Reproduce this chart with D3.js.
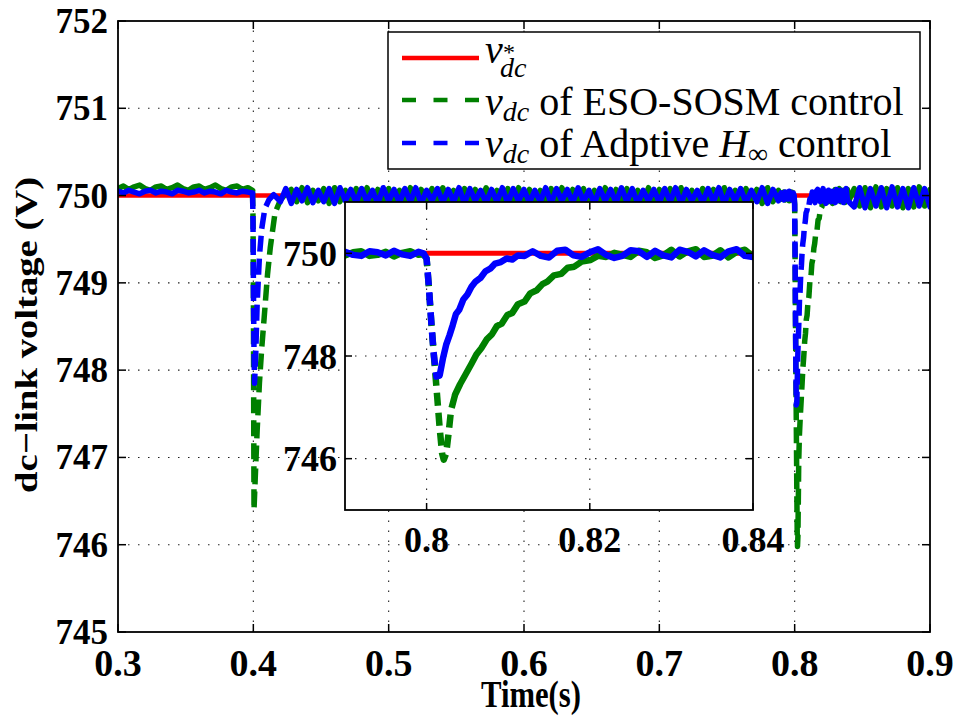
<!DOCTYPE html>
<html><head><meta charset="utf-8">
<script src="https://cdn.jsdelivr.net/npm/d3@7"></script>
<style>body{margin:0;background:#fff}svg{display:block}</style>
</head><body><svg id="c" width="955" height="722"></svg>
<script>
// ---------------- data ----------------
const xTicksMain = [0.3,0.4,0.5,0.6,0.7,0.8,0.9];
const yTicksMain = [745,746,747,748,749,750,751,752];
const xTicksInset = [0.8,0.82,0.84];
const yTicksInset = [746,748,750];

const refVoltage = [[0.3,750],[0.9,750]];

const esoSosm = [
[0.300,750.08],[0.304,750.11],[0.308,750.07],[0.312,750.10],[0.316,750.12],[0.320,750.08],[0.324,750.06],[0.328,750.10],[0.332,750.11],[0.336,750.07],
[0.340,750.09],[0.344,750.12],[0.348,750.08],[0.352,750.06],[0.356,750.10],[0.360,750.11],[0.364,750.07],[0.368,750.09],[0.372,750.12],[0.376,750.08],
[0.380,750.06],[0.384,750.10],[0.388,750.11],[0.392,750.07],[0.396,750.09],[0.3994,750.06],
[0.3998,749.7],[0.4001,748.6],[0.4003,747.4],[0.4005,746.4],[0.4015,746.8],[0.4028,747.3],[0.4045,747.85],[0.4062,748.25],[0.4080,748.6],[0.4105,749.1],
[0.4125,749.4],[0.4160,749.8],[0.4200,749.95],[0.4240,750.02],
[0.428,750.07],[0.432,749.93],[0.436,750.09],[0.440,749.92],[0.444,750.06],[0.448,749.94],[0.452,750.08],[0.456,749.91],[0.460,750.09],[0.464,749.93],
[0.468,750.06],[0.472,749.92],[0.476,750.08],[0.480,749.94],[0.484,750.09],[0.488,749.91],[0.492,750.07],[0.496,749.93],[0.500,750.08],[0.504,749.92],
[0.508,750.06],[0.512,749.94],[0.516,750.09],[0.520,749.91],[0.524,750.07],[0.528,749.93],[0.532,750.08],[0.536,749.92],[0.540,750.09],[0.544,749.94],
[0.548,750.06],[0.552,749.91],[0.556,750.08],[0.560,749.93],[0.564,750.07],[0.568,749.92],[0.572,750.09],[0.576,749.94],[0.580,750.06],[0.584,749.91],
[0.588,750.08],[0.592,749.93],[0.596,750.09],[0.600,749.92],[0.604,750.07],[0.608,749.94],[0.612,750.06],[0.616,749.91],[0.620,750.08],[0.624,749.93],
[0.628,750.09],[0.632,749.92],[0.636,750.07],[0.640,749.94],[0.644,750.08],[0.648,749.91],[0.652,750.06],[0.656,749.93],[0.660,750.09],[0.664,749.92],
[0.668,750.07],[0.672,749.94],[0.676,750.08],[0.680,749.91],[0.684,750.06],[0.688,749.93],[0.692,750.09],[0.696,749.92],[0.700,750.07],[0.704,749.94],
[0.708,750.08],[0.712,749.91],[0.716,750.09],[0.720,749.93],[0.724,750.06],[0.728,749.92],[0.732,750.08],[0.736,749.94],[0.740,750.07],[0.744,749.91],
[0.748,750.09],[0.752,749.93],[0.756,750.06],[0.760,749.92],[0.764,750.08],[0.768,749.94],[0.772,750.07],[0.776,749.91],[0.780,750.09],[0.784,749.93],
[0.788,750.06],
[0.790,749.96],[0.791,750.02],[0.792,750.04],[0.793,749.95],[0.794,749.97],[0.795,750.03],[0.796,749.94],[0.797,750.01],[0.798,750.04],[0.799,749.97],[0.7996,749.98],
[0.8000,749.9],[0.8003,749.3],[0.8006,748.6],[0.8010,747.8],[0.8013,747.2],[0.8016,746.6],[0.8019,746.1],[0.8021,745.98],[0.8024,746.1],[0.8027,746.5],
[0.8030,746.95],[0.8035,747.25],[0.8041,747.45],[0.8047,747.62],[0.8055,747.85],[0.8061,748.03],[0.8067,748.15],[0.8074,748.33],[0.8080,748.42],[0.8086,748.58],
[0.8092,748.63],[0.8099,748.80],[0.8105,748.84],[0.8112,749.01],[0.8120,749.06],[0.8127,749.22],[0.8135,749.28],[0.8142,749.40],[0.8148,749.45],[0.8156,749.57],
[0.8165,749.60],[0.8173,749.72],[0.8181,749.74],[0.8190,749.84],[0.8201,749.87],[0.8210,749.95],[0.8220,749.93],[0.8230,750.01],[0.8240,749.97],
[0.825,749.93],[0.826,750.05],[0.827,750.02],[0.828,749.91],[0.829,749.96],[0.830,750.07],[0.831,749.94],[0.832,750.04],[0.833,750.08],[0.834,749.93],
[0.835,749.95],[0.836,750.06],[0.837,749.92],[0.838,750.03],[0.839,750.07],[0.840,749.94],
[0.844,750.08],[0.848,749.88],[0.852,750.09],[0.856,749.86],[0.860,750.10],[0.864,749.87],[0.868,750.08],[0.872,749.88],[0.876,750.09],[0.880,749.86],
[0.884,750.08],[0.888,749.87],[0.892,750.10],[0.896,749.88],[0.900,750.07]
];

const adaptiveHinf = [
[0.300,750.05],[0.304,750.03],[0.308,750.06],[0.312,750.04],[0.316,750.02],[0.320,750.05],[0.324,750.06],[0.328,750.03],[0.332,750.05],[0.336,750.04],
[0.340,750.02],[0.344,750.06],[0.348,750.05],[0.352,750.03],[0.356,750.04],[0.360,750.06],[0.364,750.03],[0.368,750.05],[0.372,750.04],[0.376,750.02],
[0.380,750.06],[0.384,750.04],[0.388,750.03],[0.392,750.05],[0.396,750.04],[0.3994,750.03],
[0.3997,749.8],[0.4001,748.9],[0.4005,748.2],[0.4009,747.85],[0.4018,748.2],[0.4028,748.75],[0.4045,749.3],[0.4062,749.62],[0.4085,749.85],[0.4115,749.95],
[0.4150,750.01],
[0.420,749.93],[0.424,750.08],[0.428,749.91],[0.432,750.07],[0.436,749.94],[0.440,750.09],[0.444,749.92],[0.448,750.06],[0.452,749.93],[0.456,750.08],
[0.460,749.91],[0.464,750.09],[0.468,749.94],[0.472,750.07],[0.476,749.92],[0.480,750.08],[0.484,749.93],[0.488,750.06],[0.492,749.91],[0.496,750.09],
[0.500,749.94],[0.504,750.07],[0.508,749.92],[0.512,750.08],[0.516,749.93],[0.520,750.09],[0.524,749.91],[0.528,750.06],[0.532,749.94],[0.536,750.08],
[0.540,749.92],[0.544,750.07],[0.548,749.93],[0.552,750.09],[0.556,749.91],[0.560,750.08],[0.564,749.94],[0.568,750.06],[0.572,749.92],[0.576,750.07],
[0.580,749.93],[0.584,750.09],[0.588,749.91],[0.592,750.08],[0.596,749.94],[0.600,750.07],[0.604,749.92],[0.608,750.06],[0.612,749.93],[0.616,750.09],
[0.620,749.91],[0.624,750.08],[0.628,749.94],[0.632,750.07],[0.636,749.92],[0.640,750.09],[0.644,749.93],[0.648,750.06],[0.652,749.91],[0.656,750.08],
[0.660,749.94],[0.664,750.07],[0.668,749.92],[0.672,750.09],[0.676,749.93],[0.680,750.08],[0.684,749.91],[0.688,750.06],[0.692,749.94],[0.696,750.07],
[0.700,749.92],[0.704,750.08],[0.708,749.93],[0.712,750.09],[0.716,749.91],[0.720,750.07],[0.724,749.94],[0.728,750.06],[0.732,749.92],[0.736,750.08],
[0.740,749.93],[0.744,750.09],[0.748,749.91],[0.752,750.07],[0.756,749.94],[0.760,750.08],[0.764,749.92],[0.768,750.06],[0.772,749.93],[0.776,750.09],
[0.780,749.91],[0.784,750.07],[0.788,749.94],
[0.790,750.03],[0.791,749.97],[0.792,749.95],[0.793,750.04],[0.794,750.02],[0.795,749.96],[0.796,750.05],[0.797,749.98],[0.798,749.95],[0.799,750.03],[0.7996,750.00],
[0.8000,749.9],[0.8003,749.3],[0.8006,748.6],[0.8009,748.0],[0.8012,747.6],[0.8016,747.62],[0.8020,747.95],[0.8024,748.22],[0.8028,748.4],[0.8032,748.6],
[0.8036,748.82],[0.8040,748.9],[0.8045,749.1],[0.8050,749.2],[0.8055,749.35],[0.8060,749.45],[0.8066,749.52],[0.8072,749.65],[0.8078,749.7],[0.8084,749.8],
[0.8091,749.83],[0.8098,749.9],[0.8105,749.88],[0.8112,749.96],[0.8120,749.95],
[0.813,750.04],[0.814,749.95],[0.815,749.92],[0.816,750.05],[0.817,750.07],[0.818,749.96],[0.819,749.93],[0.820,750.02],[0.821,750.08],[0.822,749.97],
[0.823,749.91],[0.824,749.95],[0.825,750.06],[0.826,750.04],[0.827,749.93],[0.828,750.05],[0.829,749.96],[0.830,749.92],[0.831,750.07],[0.832,750.03],
[0.833,749.94],[0.834,750.06],[0.835,749.97],[0.836,749.92],[0.837,750.04],[0.838,750.08],[0.839,749.95],[0.840,749.93],
[0.844,749.87],[0.848,750.09],[0.852,749.86],[0.856,750.08],[0.860,749.88],[0.864,750.09],[0.868,749.86],[0.872,750.10],[0.876,749.87],[0.880,750.08],
[0.884,749.86],[0.888,750.09],[0.892,749.88],[0.896,750.08],[0.900,749.87]
];

// time spans drawn with a dashed stroke (the fast transients); elsewhere the dense noise reads as solid
const esoDashMain = [[0.3995,0.4240],[0.7997,0.8240]];
const hinfDashMain = [[0.3995,0.4150],[0.7997,0.8120]];
const esoDashInset = [[0.7997,0.8035]];
const hinfDashInset = [[0.7997,0.8016]];

const legendLabels = ["ESO-SOSM control","Adptive","control"];

// ---------------- drawing ----------------
const svg = d3.select("#c");
const FONT = "Liberation Serif, Times New Roman, serif";
const RED = "#ff0000", GREEN = "#008000", BLUE = "#0000ff";

const M = {l:118, r:930, t:21, b:632};
const x = d3.scaleLinear().domain([0.3,0.9]).range([M.l,M.r]);
const y = d3.scaleLinear().domain([745,752]).range([M.b,M.t]);

const I = {l:345, r:753, t:202, b:510};
const xi = d3.scaleLinear().domain([0.79,0.84]).range([I.l,I.r]);
const yi = d3.scaleLinear().domain([745,751]).range([I.b,I.t]);

const defs = svg.append("defs");
defs.append("clipPath").attr("id","clipMain").append("rect")
  .attr("x",M.l).attr("y",M.t).attr("width",M.r-M.l).attr("height",M.b-M.t);
defs.append("clipPath").attr("id","clipInset").append("rect")
  .attr("x",I.l).attr("y",I.t).attr("width",I.r-I.l).attr("height",I.b-I.t);

function segments(pts, ranges){
  const inR = t => ranges.some(([a,b]) => t>=a && t<=b);
  const segs=[]; let cur=null;
  pts.forEach(p=>{
    const d = inR(p[0]);
    if(!cur || cur.dashed!==d){
      const prev = cur ? cur.pts[cur.pts.length-1] : null;
      cur = {dashed:d, pts: prev?[prev]:[]};
      segs.push(cur);
    }
    cur.pts.push(p);
  });
  return segs;
}

function drawGrid(g, xs, ys, xt, yt, r){
  const gg = g.append("g").attr("stroke","#222").attr("stroke-width",1.1).attr("stroke-dasharray","1.5,8.5");
  xt.filter(v=>Math.abs(xs(v)-r.l)>2 && Math.abs(xs(v)-r.r)>2).forEach(v=>{
    gg.append("line").attr("x1",xs(v)).attr("x2",xs(v)).attr("y1",r.b).attr("y2",r.t);
  });
  yt.filter(v=>Math.abs(ys(v)-r.t)>2 && Math.abs(ys(v)-r.b)>2).forEach(v=>{
    gg.append("line").attr("x1",r.l).attr("x2",r.r).attr("y1",ys(v)).attr("y2",ys(v));
  });
}
function drawFrame(g, xs, ys, xt, yt, r, tl){
  const gg = g.append("g").attr("stroke","#000").attr("stroke-width",1.5);
  xt.forEach(v=>{
    gg.append("line").attr("x1",xs(v)).attr("x2",xs(v)).attr("y1",r.b).attr("y2",r.b-tl);
    gg.append("line").attr("x1",xs(v)).attr("x2",xs(v)).attr("y1",r.t).attr("y2",r.t+tl);
  });
  yt.forEach(v=>{
    gg.append("line").attr("x1",r.l).attr("x2",r.l+tl).attr("y1",ys(v)).attr("y2",ys(v));
    gg.append("line").attr("x1",r.r).attr("x2",r.r-tl).attr("y1",ys(v)).attr("y2",ys(v));
  });
  g.append("rect").attr("x",r.l).attr("y",r.t).attr("width",r.r-r.l).attr("height",r.b-r.t)
    .attr("fill","none").attr("stroke","#000").attr("stroke-width",1.8);
}
function drawSeries(g, data, ranges, xs, ys, color, w, dash){
  const line = d3.line().x(d=>xs(d[0])).y(d=>ys(d[1]));
  segments(data, ranges).forEach(s=>{
    g.append("path").attr("d",line(s.pts)).attr("fill","none")
      .attr("stroke",color).attr("stroke-width",w)
      .attr("stroke-linejoin","round")
      .attr("stroke-linecap", s.dashed ? "butt" : "round")
      .attr("stroke-dasharray", s.dashed ? dash : null);
  });
}

// ---- main axes ----
const main = svg.append("g");
main.append("rect").attr("x",M.l).attr("y",M.t).attr("width",M.r-M.l).attr("height",M.b-M.t).attr("fill","#fff");
drawGrid(main, x, y, xTicksMain, yTicksMain, M);
const mainData = main.append("g").attr("clip-path","url(#clipMain)");
const refLine = d3.line().x(d=>x(d[0])).y(d=>y(d[1]));
mainData.append("path").attr("d",refLine(refVoltage)).attr("fill","none").attr("stroke",RED).attr("stroke-width",4.5);
drawSeries(mainData, esoSosm, esoDashMain, x, y, GREEN, 5.5, "16,7");
drawSeries(mainData, adaptiveHinf, hinfDashMain, x, y, BLUE, 5.5, "16,7");
drawFrame(main, x, y, xTicksMain, yTicksMain, M, 8);

// tick labels
main.append("g").selectAll("text").data(xTicksMain).join("text")
  .attr("x",d=>x(d)).attr("y",676).attr("text-anchor","middle")
  .attr("font-family",FONT).attr("font-weight","bold").attr("font-size",38)
  .text(d=>d3.format(".1f")(d));
main.append("g").selectAll("text").data(yTicksMain).join("text")
  .attr("x",108).attr("y",d=>y(d)+12).attr("text-anchor","end")
  .attr("font-family",FONT).attr("font-weight","bold").attr("font-size",35)
  .text(d=>d);
// axis titles
main.append("text").attr("x",531).attr("y",707).attr("text-anchor","middle")
  .attr("font-family",FONT).attr("font-weight","bold").attr("font-size",37)
  .attr("textLength",100).attr("lengthAdjust","spacingAndGlyphs").text("Time(s)");
main.append("text").attr("transform","translate(37,335) rotate(-90)").attr("text-anchor","middle")
  .attr("font-family",FONT).attr("font-weight","bold").attr("font-size",32)
  .attr("textLength",316).attr("lengthAdjust","spacingAndGlyphs").text("dc\u2212link voltage (V)");

// ---- inset ----
const inset = svg.append("g");
inset.append("rect").attr("x",I.l).attr("y",I.t).attr("width",I.r-I.l).attr("height",I.b-I.t).attr("fill","#fff");
drawGrid(inset, xi, yi, xTicksInset, yTicksInset, I);
const insetData = inset.append("g").attr("clip-path","url(#clipInset)");
const refLineI = d3.line().x(d=>xi(d[0])).y(d=>yi(d[1]));
insetData.append("path").attr("d",refLineI(refVoltage)).attr("fill","none").attr("stroke",RED).attr("stroke-width",5);
drawSeries(insetData, esoSosm, esoDashInset, xi, yi, GREEN, 6.5, "13,7");
drawSeries(insetData, adaptiveHinf, hinfDashInset, xi, yi, BLUE, 6.5, "13,7");
drawFrame(inset, xi, yi, xTicksInset, yTicksInset, I, 7);
inset.append("g").selectAll("text").data(xTicksInset).join("text")
  .attr("x",d=>xi(d)).attr("y",552).attr("text-anchor","middle")
  .attr("font-family",FONT).attr("font-weight","bold").attr("font-size",36)
  .text(d=>d===0.8?"0.8":d3.format(".2f")(d));
inset.append("g").selectAll("text").data(yTicksInset).join("text")
  .attr("x",337).attr("y",d=>yi(d)+12.5).attr("text-anchor","end")
  .attr("font-family",FONT).attr("font-weight","bold").attr("font-size",36)
  .text(d=>d);

// ---- legend ----
const lg = svg.append("g").attr("font-family",FONT);
lg.append("rect").attr("x",388).attr("y",32).attr("width",532).attr("height",137)
  .attr("fill","#fff").attr("stroke","#000").attr("stroke-width",1.5);
const rows = [
  {c:RED, dash:null, ly:58},
  {c:GREEN, dash:"14,17.5", ly:100},
  {c:BLUE, dash:"14,17.5", ly:143}
];
rows.forEach(r=>{
  lg.append("line").attr("x1",402).attr("x2",479).attr("y1",r.ly).attr("y2",r.ly)
    .attr("stroke",r.c).attr("stroke-width",4.5).attr("stroke-dasharray",r.dash);
});
// row 1: v*_dc
lg.append("text").attr("x",485).attr("y",63).attr("font-size",40).attr("font-style","italic").text("v");
lg.append("text").attr("x",503).attr("y",60).attr("font-size",24).text("*");
lg.append("text").attr("x",500).attr("y",77).attr("font-size",28).attr("font-style","italic").text("dc");
// row 2
const t2 = lg.append("text").attr("x",485).attr("y",115).attr("font-size",40);
t2.append("tspan").attr("font-style","italic").text("v");
t2.append("tspan").attr("dy",6).attr("font-size",28).attr("font-style","italic").text("dc");
t2.append("tspan").attr("dy",-6).text(" of " + legendLabels[0]);
// row 3
const t3 = lg.append("text").attr("x",485).attr("y",157).attr("font-size",40);
t3.append("tspan").attr("font-style","italic").text("v");
t3.append("tspan").attr("dy",6).attr("font-size",28).attr("font-style","italic").text("dc");
t3.append("tspan").attr("dy",-6).text(" of " + legendLabels[1] + " ");
t3.append("tspan").attr("font-style","italic").text("H");
t3.append("tspan").attr("dy",6).attr("font-size",28).text("\u221E");
t3.append("tspan").attr("dy",-6).text(" " + legendLabels[2]);
</script>
</body></html>
